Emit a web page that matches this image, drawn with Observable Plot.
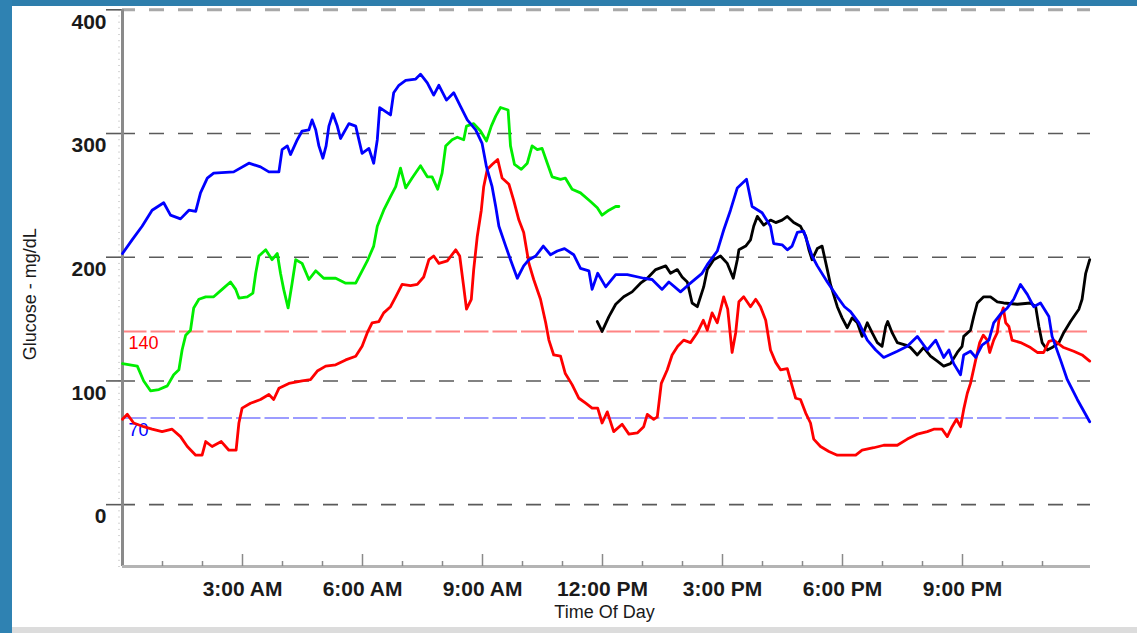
<!DOCTYPE html>
<html>
<head>
<meta charset="utf-8">
<script src="https://cdn.jsdelivr.net/npm/d3@7"></script>
<script src="https://cdn.jsdelivr.net/npm/@observablehq/plot@0.6"></script>
<style>
html,body{margin:0;padding:0;background:#fff;}
#page{position:relative;width:1137px;height:633px;overflow:hidden;background:#fff;}
#topband{position:absolute;left:0;top:0;width:1137px;height:6px;background:#2e7eac;}
#leftband{position:absolute;left:0;top:0;width:12px;height:633px;background:#2f82b2;}
#bottomband{position:absolute;left:12px;top:627px;width:1125px;height:6px;background:#dcdcdc;}
#chart{position:absolute;left:12px;top:6px;}
</style>
</head>
<body>
<div id="page">
  <div id="topband"></div>
  <div id="leftband"></div>
  <div id="chart"></div>
  <div id="bottomband"></div>
</div>
<script>
// ---- data (hour of day, glucose mg/dL) ----
const xDomain = [0, 24.2];
const yDomain = [-50, 400];
const gridValues = [0, 100, 200, 300];
const topGridValues = [400];
const yTickValues = [0, 100, 200, 300, 400];
const highTarget = [140];
const lowTarget = [70];
const majorHours = [3, 6, 9, 12, 15, 18, 21];
const xTickLabels = ["3:00 AM", "6:00 AM", "9:00 AM", "12:00 PM", "3:00 PM", "6:00 PM", "9:00 PM"];
const minorHours = [1, 2, 4, 5, 7, 8, 10, 11, 13, 14, 16, 17, 19, 20, 22, 23];
const yTitle = "Glucose - mg/dL";
const xTitle = "Time Of Day";

const blueSeries = [[0,203],[0.24,214],[0.49,225],[0.74,238],[1.03,244],[1.2,234],[1.45,231],[1.66,238],[1.83,237],[1.95,252],[2.12,264],[2.28,268],[2.78,269],[3.16,276],[3.45,273],[3.66,269],[3.91,269],[3.99,287],[4.12,290],[4.2,283],[4.37,295],[4.49,302],[4.66,303],[4.74,311],[4.83,303],[4.91,290],[5.01,280],[5.09,290],[5.16,306],[5.26,316],[5.37,306],[5.45,296],[5.66,308],[5.83,306],[5.99,284],[6.16,288],[6.28,276],[6.37,295],[6.43,321],[6.7,315],[6.78,333],[6.91,339],[7.08,343],[7.33,344],[7.45,348],[7.62,341],[7.78,331],[7.91,339],[8.1,327],[8.28,333],[8.45,322],[8.62,311],[8.83,303],[8.99,292],[9.1,273],[9.24,257],[9.33,241],[9.41,225],[9.58,209],[9.7,198],[9.87,183],[10.03,193],[10.16,198],[10.33,201],[10.52,209],[10.7,202],[10.87,205],[11.05,207],[11.28,202],[11.45,191],[11.66,189],[11.74,174],[11.88,187],[12.08,176],[12.33,186],[12.62,186],[13.03,183],[13.24,182],[13.49,174],[13.66,180],[13.95,172],[14.16,178],[14.49,187],[14.62,194],[14.87,205],[15.03,222],[15.2,238],[15.37,256],[15.6,263],[15.74,241],[15.99,236],[16.2,225],[16.28,211],[16.49,210],[16.62,206],[16.74,209],[16.87,220],[17.03,221],[17.24,201],[17.37,193],[17.62,180],[17.87,168],[18.05,160],[18.2,156],[18.41,147],[18.62,133],[18.83,125],[19.03,119],[19.37,124],[19.62,128],[19.87,136],[20.12,125],[20.33,133],[20.53,119],[20.66,125],[20.78,114],[20.95,105],[21.03,121],[21.2,124],[21.33,119],[21.49,129],[21.66,133],[21.78,147],[21.95,154],[22.12,159],[22.28,166],[22.45,178],[22.62,170],[22.78,160],[22.95,163],[23.16,152],[23.24,136],[23.45,117],[23.62,101],[23.87,85],[24.18,67]];

const greenSeries = [[0,114],[0.37,112],[0.53,100],[0.7,92],[0.91,93],[1.12,96],[1.28,105],[1.41,109],[1.49,125],[1.58,137],[1.7,141],[1.78,159],[1.91,166],[2.08,168],[2.28,168],[2.49,174],[2.7,180],[2.83,174],[2.91,167],[3.12,168],[3.26,171],[3.33,187],[3.41,201],[3.58,206],[3.74,198],[3.87,203],[3.95,187],[4.03,174],[4.14,159],[4.24,179],[4.33,198],[4.49,195],[4.66,182],[4.83,189],[5.03,183],[5.33,183],[5.58,179],[5.83,179],[5.99,189],[6.12,197],[6.28,209],[6.37,225],[6.53,238],[6.7,249],[6.83,257],[6.95,272],[7.08,256],[7.24,264],[7.45,274],[7.62,265],[7.74,265],[7.88,255],[7.99,268],[8.08,290],[8.24,295],[8.37,297],[8.53,295],[8.6,306],[8.78,308],[8.95,302],[9.1,294],[9.22,306],[9.33,314],[9.45,321],[9.64,319],[9.7,290],[9.8,275],[9.97,271],[10.12,276],[10.24,290],[10.37,287],[10.49,288],[10.62,276],[10.74,265],[10.95,263],[11.07,264],[11.24,255],[11.45,252],[11.7,245],[11.87,240],[11.99,234],[12.16,238],[12.33,241],[12.41,241]];

const redSeries = [[0,69],[0.12,73],[0.28,66],[0.53,63],[0.74,61],[0.99,59],[1.24,61],[1.45,55],[1.62,47],[1.83,40],[1.99,40],[2.08,51],[2.24,47],[2.47,51],[2.66,44],[2.84,44],[2.91,66],[2.99,78],[3.2,82],[3.45,85],[3.66,89],[3.78,85],[3.91,94],[4.16,98],[4.49,100],[4.7,101],[4.87,108],[5.08,112],[5.33,113],[5.58,117],[5.83,120],[5.99,128],[6.12,139],[6.24,147],[6.41,148],[6.53,155],[6.7,160],[6.83,168],[6.99,178],[7.2,177],[7.37,178],[7.53,184],[7.66,198],[7.78,201],[7.91,195],[8.12,197],[8.33,206],[8.43,201],[8.53,176],[8.6,158],[8.72,166],[8.78,190],[8.87,217],[8.97,238],[9.03,257],[9.12,271],[9.24,275],[9.38,279],[9.49,264],[9.66,259],[9.78,246],[9.91,230],[10.03,220],[10.16,195],[10.28,182],[10.45,166],[10.58,147],[10.66,133],[10.78,121],[10.95,120],[11.07,106],[11.24,97],[11.41,86],[11.58,82],[11.74,78],[11.88,78],[11.99,66],[12.12,75],[12.28,59],[12.49,65],[12.66,57],[12.87,58],[13.03,63],[13.12,73],[13.28,69],[13.37,71],[13.47,98],[13.62,109],[13.74,121],[13.88,128],[14.03,133],[14.2,131],[14.37,139],[14.52,149],[14.62,141],[14.74,155],[14.87,147],[15.03,168],[15.13,158],[15.24,123],[15.33,139],[15.41,164],[15.53,168],[15.7,160],[15.83,166],[15.95,160],[16.08,149],[16.2,125],[16.33,115],[16.45,109],[16.62,110],[16.74,96],[16.83,86],[16.95,85],[17.08,74],[17.2,66],[17.28,53],[17.45,47],[17.66,43],[17.87,40],[18.16,40],[18.33,40],[18.49,44],[18.78,46],[19.03,48],[19.37,48],[19.62,53],[19.87,57],[20.12,59],[20.28,61],[20.49,61],[20.62,55],[20.74,63],[20.85,69],[20.95,63],[21.03,77],[21.12,90],[21.2,98],[21.33,117],[21.43,131],[21.52,137],[21.62,133],[21.68,123],[21.78,133],[21.87,139],[21.91,149],[22.02,159],[22.08,147],[22.16,144],[22.24,133],[22.45,131],[22.7,127],[22.87,123],[23.03,123],[23.16,132],[23.28,133],[23.53,127],[23.78,124],[23.99,121],[24.18,116]];

const blackSeries = [[11.87,148],[11.99,140],[12.16,152],[12.33,162],[12.53,168],[12.74,172],[12.95,179],[13.12,183],[13.33,190],[13.58,193],[13.7,187],[13.87,190],[13.99,184],[14.12,180],[14.24,163],[14.37,160],[14.53,176],[14.62,190],[14.78,198],[14.95,201],[15.12,195],[15.27,183],[15.37,198],[15.41,206],[15.58,209],[15.7,214],[15.78,225],[15.87,233],[16.03,226],[16.2,230],[16.33,228],[16.49,230],[16.62,233],[16.78,228],[16.95,225],[17.08,217],[17.16,206],[17.24,198],[17.37,207],[17.49,209],[17.62,190],[17.7,178],[17.87,160],[17.99,151],[18.12,143],[18.24,151],[18.37,147],[18.49,136],[18.62,147],[18.74,139],[18.87,131],[18.99,128],[19.08,144],[19.13,148],[19.24,139],[19.37,131],[19.58,129],[19.7,127],[19.87,121],[20.03,127],[20.2,120],[20.37,116],[20.53,112],[20.7,114],[20.87,123],[20.99,128],[21.03,136],[21.2,141],[21.28,152],[21.37,163],[21.53,168],[21.7,168],[21.87,164],[22.03,163],[22.37,162],[22.7,163],[22.83,160],[22.91,144],[22.99,131],[23.12,125],[23.24,127],[23.41,131],[23.53,139],[23.7,148],[23.91,158],[23.99,166],[24.08,187],[24.18,198]];

// ---- chart ----
const X = d => d[0];
const Y = d => d[1];
const font = "'Liberation Sans', Arial, sans-serif";

const chart = Plot.plot({
  width: 1125,
  height: 621,
  marginLeft: 110,
  marginRight: 47,
  marginTop: 3.3,
  marginBottom: 61,
  style: {fontFamily: font, background: "transparent", overflow: "visible"},
  x: {domain: xDomain, label: null},
  y: {domain: yDomain, label: null},
  marks: [
    // light minor ticks left of y axis
    Plot.ruleY(d3.range(yDomain[0], yDomain[1] + 1, 5), {x1: xDomain[0], x2: xDomain[0], insetLeft: -2, insetRight: 4, stroke: "#d4d4d4", strokeWidth: 1}),
    // horizontal grid
    Plot.ruleY(gridValues, {stroke: "#5a5a5a", strokeWidth: 1.6, strokeDasharray: "15,14", strokeDashoffset: 2}),
    Plot.ruleY(topGridValues, {stroke: "#a8a8a8", strokeWidth: 3, strokeDasharray: "15,14", strokeDashoffset: 2}),
    // major y ticks (extend left of axis)
    Plot.ruleY(yTickValues, {x1: xDomain[0], x2: xDomain[0], insetRight: 16, stroke: "#5a5a5a", strokeWidth: 1.6}),
    // target lines
    Plot.ruleY(highTarget, {stroke: "#ff8484", strokeWidth: 2, strokeDasharray: "24.5,4"}),
    Plot.ruleY(lowTarget, {stroke: "#9c9cff", strokeWidth: 2, strokeDasharray: "24.5,4"}),
    Plot.text(highTarget, {x: xDomain[0], y: d => d, text: d => String(d), dx: 6, dy: 12, textAnchor: "start", fill: "#ff0000", fontSize: 18}),
    Plot.text(lowTarget, {x: xDomain[0], y: d => d, text: d => String(d), dx: 6, dy: 12, textAnchor: "start", fill: "#0000ff", fontSize: 18}),
    // axis lines
    Plot.ruleX([xDomain[0]], {stroke: "#8a8a8a", strokeWidth: 3}),
    Plot.ruleY([yDomain[0]], {stroke: "#b4b4b4", strokeWidth: 3}),
    // x ticks pointing up into the plot
    Plot.ruleX(majorHours, {x: d => d, y1: yDomain[0], y2: yDomain[0], insetBottom: 12, stroke: "#8a8a8a", strokeWidth: 1.5}),
    Plot.ruleX(minorHours, {x: d => d, y1: yDomain[0], y2: yDomain[0], insetBottom: 5, stroke: "#8a8a8a", strokeWidth: 1.5}),
    // data
    Plot.line(blackSeries, {x: X, y: Y, stroke: "#000000", strokeWidth: 2.8, strokeLinejoin: "round"}),
    Plot.line(greenSeries, {x: X, y: Y, stroke: "#00ee00", strokeWidth: 2.8, strokeLinejoin: "round"}),
    Plot.line(redSeries, {x: X, y: Y, stroke: "#ff0000", strokeWidth: 2.8, strokeLinejoin: "round"}),
    Plot.line(blueSeries, {x: X, y: Y, stroke: "#0000ff", strokeWidth: 2.8, strokeLinejoin: "round"}),
    // axes labels
    Plot.axisY({ticks: yTickValues, tickSize: 0, tickPadding: 16, dy: 12, fontSize: 21, fontWeight: "bold", fill: "#1a1a1a", label: null}),
    Plot.axisX({ticks: majorHours, tickFormat: d => xTickLabels[majorHours.indexOf(d)], tickSize: 0, tickPadding: 15, fontSize: 21, fontWeight: "bold", fill: "#1a1a1a", label: null}),
    Plot.text([yTitle], {frameAnchor: "left", textAnchor: "middle", rotate: -90, dx: -92, dy: 6, fontSize: 18, fill: "#1a1a1a"}),
    Plot.text([xTitle], {frameAnchor: "bottom", dy: 51, dx: -2, fontSize: 18, fill: "#1a1a1a"})
  ]
});
document.getElementById("chart").appendChild(chart);
</script>
</body>
</html>
